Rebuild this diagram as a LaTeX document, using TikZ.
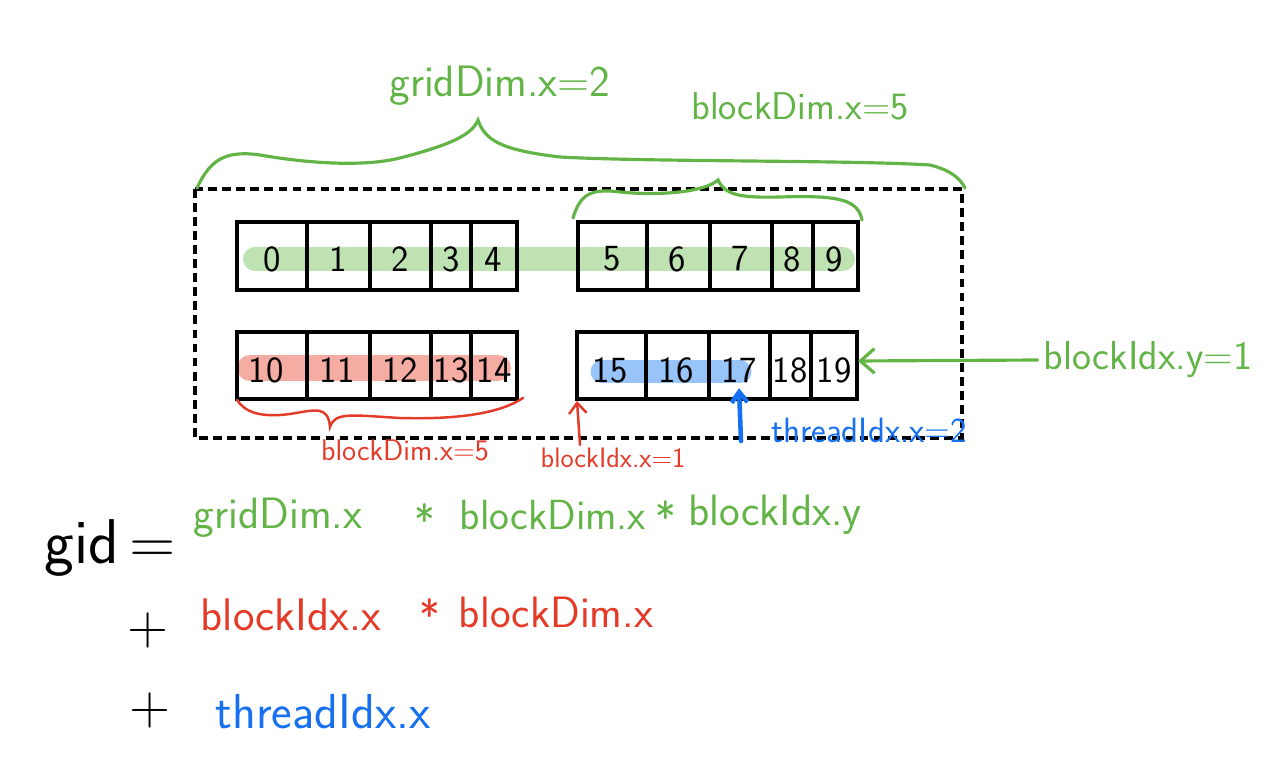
\documentclass[tikz,border=0pt]{standalone}
\usepackage{tikz}
\usetikzlibrary{arrows.meta}

\definecolor{penGreen}{RGB}{98,180,70}
\definecolor{penRed}{RGB}{228,58,40}
\definecolor{penBlue}{RGB}{22,112,240}
\definecolor{hlGreen}{RGB}{190,226,178}
\definecolor{hlRed}{RGB}{245,172,162}
\definecolor{hlBlue}{RGB}{152,196,250}

\tikzset{
    cellline/.style={line width=2.2pt, black},
    num/.style={font=\sffamily\fontsize{21}{23}\selectfont, inner sep=0pt},
    gridbox/.style={line width=2pt, dash pattern=on 5pt off 3pt},
    hand/.style={line width=1.8pt, line cap=round},
    lbl/.style={font=\sffamily\fontsize{#1}{#1}\selectfont},
}

\begin{document}
\begin{tikzpicture}[x=0.02cm,y=-0.02cm]
    \useasboundingbox (0,0) rectangle (1288,766);

    % Highlights
    \draw[hlGreen, line width=0.48cm, line cap=round] (255,259) -- (843,259);
    \draw[hlRed, line width=0.52cm, line cap=round] (250,368) -- (498,368);
    \draw[hlBlue, line width=0.46cm, line cap=round] (602,372) -- (740,372);

    % Grid (dashed)
    \draw[gridbox] (195,189) rectangle (962,438);

    % Blocks
    \draw[cellline] (237,222) rectangle (517,290);
    \draw[cellline] (307,222) -- (307,290);
    \draw[cellline] (370,222) -- (370,290);
    \draw[cellline] (431,222) -- (431,290);
    \draw[cellline] (471,222) -- (471,290);

    \draw[cellline] (578,222) rectangle (858,290);
    \draw[cellline] (647,222) -- (647,290);
    \draw[cellline] (710,222) -- (710,290);
    \draw[cellline] (772,222) -- (772,290);
    \draw[cellline] (813,222) -- (813,290);

    \draw[cellline] (237,332) rectangle (517,399);
    \draw[cellline] (307,332) -- (307,399);
    \draw[cellline] (370,332) -- (370,399);
    \draw[cellline] (431,332) -- (431,399);
    \draw[cellline] (471,332) -- (471,399);

    \draw[cellline] (577,332) rectangle (857,399);
    \draw[cellline] (646,332) -- (646,399);
    \draw[cellline] (709,332) -- (709,399);
    \draw[cellline] (770,332) -- (770,399);
    \draw[cellline] (811,332) -- (811,399);

    \coordinate (blkBsw) at (577,401);
    \coordinate (blkBe) at (858,361);

    % Thread numbers
    \node[num] (n0) at (272,259) {0};
    \node[num] (n1) at (338,259) {1};
    \node[num] (n2) at (400,259) {2};
    \node[num] (n3) at (451,259) {3};
    \node[num] (n4) at (493,259) {4};
    \node[num] (n5) at (612,259) {5};
    \node[num] (n6) at (677,259) {6};
    \node[num] (n7) at (740,259) {7};
    \node[num] (n8) at (792,259) {8};
    \node[num] (n9) at (834,259) {9};
    \node[num] (n10) at (266,370) {10};
    \node[num] (n11) at (337,370) {11};
    \node[num] (n12) at (400,370) {12};
    \node[num] (n13) at (451,370) {13};
    \node[num] (n14) at (494,370) {14};
    \node[num] (n15) at (610,370) {15};
    \node[num] (n16) at (676,370) {16};
    \node[num] (n17) at (739,370) {17};
    \node[num] (n18) at (790,370) {18};
    \node[num] (n19) at (834,370) {19};

    % Braces
    \draw[hand, penGreen] (197,188) .. controls (210,160) and (225,150) .. (260,155)
        .. controls (300,162) and (360,168) .. (400,158)
        .. controls (450,145) and (472,135) .. (478,120)
        .. controls (485,140) and (500,150) .. (560,157)
        .. controls (650,162) and (850,160) .. (930,165)
        .. controls (950,170) and (960,178) .. (965,188);
    \draw[hand, penGreen] (573,218) .. controls (580,195) and (590,188) .. (620,192)
        .. controls (660,196) and (705,192) .. (718,180)
        .. controls (725,195) and (740,198) .. (780,197)
        .. controls (840,195) and (858,200) .. (862,220);
    \draw[hand, penRed, line width=1.4pt] (237,400) .. controls (245,412) and (260,418) .. (290,414)
        .. controls (315,410) and (328,405) .. (330,427)
        .. controls (335,412) and (350,415) .. (400,418)
        .. controls (470,420) and (505,410) .. (523,398);

    % Labels
    \node[lbl=25, penGreen] (gdim) at (500,86) {gridDim.x=2};
    \node[lbl=22, penGreen] (bdimG) at (800,106) {blockDim.x=5};
    \node[lbl=17, penRed] (bdimR) at (405,450) {blockDim.x=5};
    \node[lbl=16, penRed] (bidx) at (613,458) {blockIdx.x=1};
    \node[lbl=20, penBlue] (tidx) at (869,430) {threadIdx.x=2};
    \node[lbl=23, penGreen] (bidy) at (1148,360) {blockIdx.y=1};
    \coordinate (tidxfoot) at (741,441);
    \coordinate (bidxfoot) at (580,445);

    % Arrows
    \draw[hand, penGreen, -{Straight Barb[length=8pt,width=14pt]}] (bidy.west) -- (blkBe);
    \draw[hand, penRed, line width=1.4pt, -{Straight Barb[length=6pt,width=10pt]}] (bidxfoot) -- (blkBsw);
    \draw[hand, penBlue, line width=2.6pt, -{Straight Barb[length=6pt,width=9pt]}] (tidxfoot) -- ([yshift=-3pt]n17.south);

    % Formula
    \node[lbl=36] (gid) at (110,548) {gid\,=};
    \node[lbl=25, penGreen] (f1) at (278,518) {gridDim.x};
    \node[lbl=25, penGreen] (s1) at (425,520) {*};
    \node[lbl=24, penGreen] (f2) at (553,515) {blockDim.x};
    \node[lbl=25, penGreen] (s2) at (666,517) {*};
    \node[lbl=25, penGreen] (f3) at (775,515) {blockIdx.y};
    \node[lbl=32] (p1) at (148,630) {+};
    \node[lbl=26, penRed] (f4) at (291,615) {blockIdx.x};
    \node[lbl=25, penRed] (s3) at (430,615) {*};
    \node[lbl=25, penRed] (f5) at (556,612) {blockDim.x};
    \node[lbl=32] (p2) at (150,710) {+};
    \node[lbl=28, penBlue] (f6) at (323,712) {threadIdx.x};
\end{tikzpicture}
\end{document}
